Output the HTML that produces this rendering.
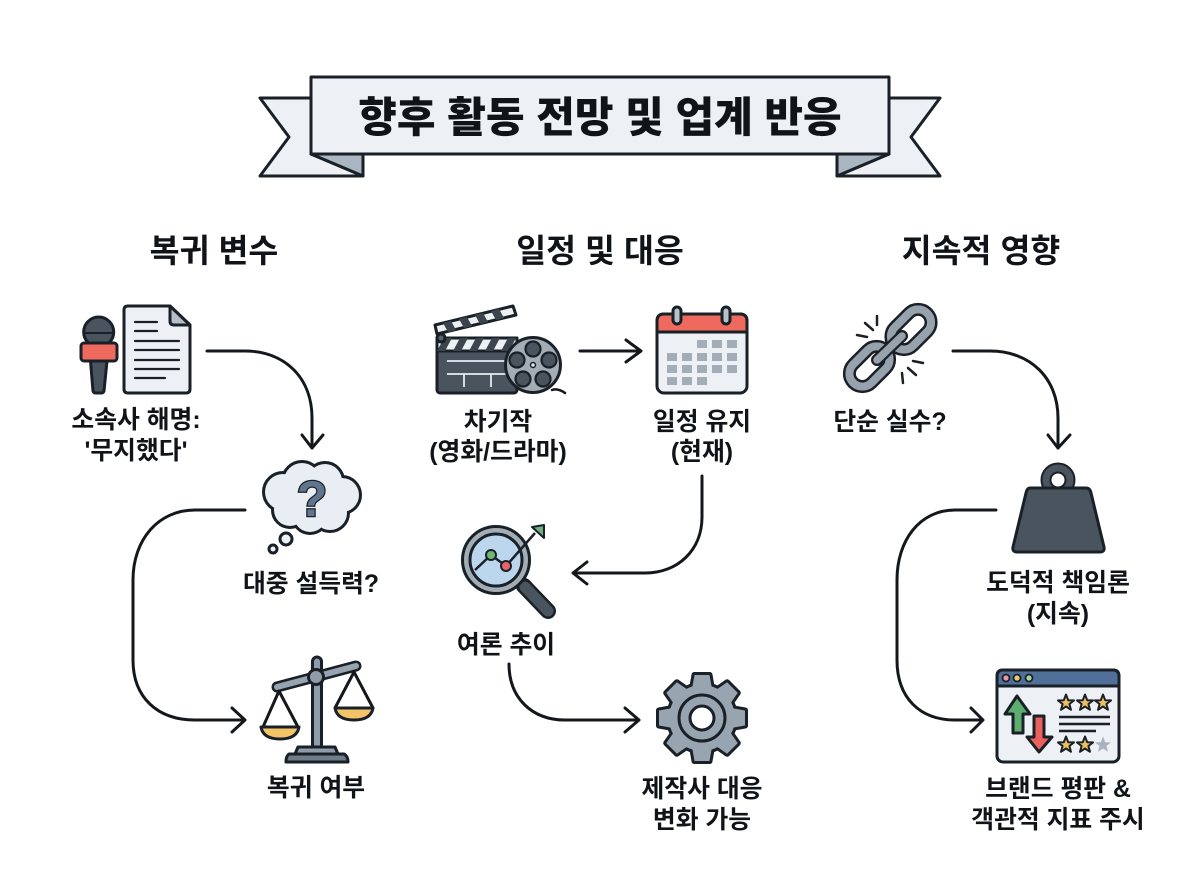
<!DOCTYPE html>
<html lang="ko">
<head>
<meta charset="utf-8">
<title>향후 활동 전망 및 업계 반응</title>
<style>
html,body{margin:0;padding:0;background:#fff;}
svg{display:block;}
text{font-family:"Liberation Sans","Noto Sans CJK KR",sans-serif;font-weight:700;fill:#101317;text-anchor:middle;}
.h{font-size:32.5px;}
.l{font-size:24.8px;}
.c{fill:none;stroke:#14181d;stroke-width:3;stroke-linecap:round;stroke-linejoin:round;}
.o{stroke:#1a2027;stroke-width:3;stroke-linejoin:round;stroke-linecap:round;}
</style>
</head>
<body>
<svg xmlns="http://www.w3.org/2000/svg" width="1200" height="896" viewBox="0 0 1200 896">
<defs>
<polygon id="star" points="0,-8.5 2.2,-2.8 8,-2.6 3.4,1 5,6.8 0,3.5 -5,6.8 -3.4,1 -8,-2.6 -2.2,-2.8"/>
<g id="gearshape">
  <circle cx="0" cy="0" r="33"/>
  <polygon points="-10,-29 -7.5,-43 7.5,-43 10,-29"/>
  <polygon points="-10,-29 -7.5,-43 7.5,-43 10,-29" transform="rotate(45)"/>
  <polygon points="-10,-29 -7.5,-43 7.5,-43 10,-29" transform="rotate(90)"/>
  <polygon points="-10,-29 -7.5,-43 7.5,-43 10,-29" transform="rotate(135)"/>
  <polygon points="-10,-29 -7.5,-43 7.5,-43 10,-29" transform="rotate(180)"/>
  <polygon points="-10,-29 -7.5,-43 7.5,-43 10,-29" transform="rotate(225)"/>
  <polygon points="-10,-29 -7.5,-43 7.5,-43 10,-29" transform="rotate(270)"/>
  <polygon points="-10,-29 -7.5,-43 7.5,-43 10,-29" transform="rotate(315)"/>
</g>
<g id="cloudshape">
  <circle cx="283" cy="492" r="18"/><circle cx="302" cy="481" r="18"/><circle cx="325" cy="481" r="17"/>
  <circle cx="342" cy="495" r="17"/><circle cx="330" cy="513" r="17"/><circle cx="310" cy="516" r="16"/>
  <circle cx="290" cy="510" r="16"/><circle cx="312" cy="497" r="24"/>
</g>
</defs>
<rect width="1200" height="896" fill="#fff"/>

<!-- Banner -->
<polygon class="o" points="260,98 311,98 311,154 363,176 260,176 289,137" fill="#edf1f6"/>
<polygon class="o" points="940,98 889,98 889,154 837,176 940,176 911,137" fill="#edf1f6"/>
<polygon class="o" points="311,154 363,154 363,176" fill="#aab6c2"/>
<polygon class="o" points="889,154 837,154 837,176" fill="#aab6c2"/>
<rect class="o" x="311" y="77" width="578" height="77" fill="#edf1f6"/>
<text x="600" y="132" style="font-size:42px;font-weight:900">향후 활동 전망 및 업계 반응</text>

<!-- Column headers -->
<text class="h" x="214" y="262">복귀 변수</text>
<text class="h" x="600" y="262">일정 및 대응</text>
<text class="h" x="981" y="262">지속적 영향</text>

<!-- Mic -->
<path class="o" d="M90.5,361 L107,361 L104,391 Q103.5,393 101,393 L96,393 Q93.5,393 93,391 Z" fill="#4a545e"/>
<circle class="o" cx="98.7" cy="332" r="15" fill="#4a545e"/>
<line x1="84" y1="333" x2="113" y2="333" stroke="#1a2027" stroke-width="2"/>
<rect class="o" x="81" y="343" width="36" height="18" rx="3" fill="#ee6a5f"/>

<!-- Document -->
<path class="o" d="M128,306 L170,306 L190,325 L190,389 Q190,393 186,393 L128,393 Q124,393 124,389 L124,310 Q124,306 128,306 Z" fill="#edf1f6"/>
<path class="o" d="M170,306 L190,325 L174,325 Q170,325 170,321 Z" fill="#b6bec7"/>
<g stroke="#1a2027" stroke-width="2.2" stroke-linecap="round">
<line x1="135" y1="322" x2="157" y2="322"/><line x1="135" y1="331" x2="157" y2="331"/>
<line x1="135" y1="341" x2="179" y2="341"/><line x1="135" y1="350" x2="179" y2="350"/>
<line x1="135" y1="360" x2="179" y2="360"/><line x1="135" y1="369" x2="179" y2="369"/>
<line x1="135" y1="378" x2="165" y2="378"/>
</g>
<text class="l" x="136" y="428">소속사 해명:</text>
<text class="l" x="136" y="459">'무지했다'</text>

<!-- Connector 1 -->
<path class="c" d="M207,351 H245 C285,351 312,378 312,418 V448"/>
<path class="c" d="M302,435 L312,448 L323,435"/>

<!-- Cloud -->
<use href="#cloudshape" fill="#1a2027" stroke="#1a2027" stroke-width="6"/>
<use href="#cloudshape" fill="#e9eef4"/>
<text x="312" y="516" style="font-size:50px;font-weight:700;fill:#5f7590;stroke:#1a2027;stroke-width:2.5;paint-order:stroke">?</text>
<circle class="o" cx="286" cy="539" r="6" fill="#edf1f6"/>
<circle class="o" cx="273" cy="549" r="4" fill="#edf1f6"/>
<text class="l" x="311" y="592">대중 설득력?</text>

<!-- Connector 2 -->
<path class="c" d="M245,510 H195 C158,510 133,540 133,580 V660 C133,698 158,720 195,720 H244"/>
<path class="c" d="M232,708 L245,720 L232,732"/>

<!-- Scales -->
<rect class="o" x="312.5" y="657" width="9" height="92" rx="4.5" fill="#8f9ca9"/>
<path d="M277,687 L356,666" stroke="#1a2027" stroke-width="11" stroke-linecap="round"/>
<path d="M277,687 L356,666" stroke="#97a4b0" stroke-width="6" stroke-linecap="round"/>
<circle class="o" cx="316" cy="677" r="7.5" fill="#8f9ca9"/>
<path class="o" d="M295,754 L298,747 L335,747 L338,754 Z" fill="#8f9ca9"/>
<path class="o" d="M289,754 L344,754 Q348,756 348,762 L286,762 Q286,756 289,754 Z" fill="#6f7d8b"/>
<path class="c" d="M263,727 L279,691 L298,727"/>
<path class="c" d="M335,708 L354,672 L373,708"/>
<path class="o" d="M261,727 L299,727 Q297,739 280,739 Q263,739 261,727 Z" fill="#f3c468"/>
<path class="o" d="M335,708 L373,708 Q371,720 354,720 Q337,720 335,708 Z" fill="#f3c468"/>
<text class="l" x="316" y="796">복귀 여부</text>

<!-- Clapper -->
<rect class="o" x="437" y="338" width="80" height="55" rx="3" fill="#4a545e"/>
<rect class="o" x="437" y="338" width="80" height="13" fill="#eef1f4"/>
<g fill="#3c454e">
<polygon points="437,351 444,338 452,338 445,351"/>
<polygon points="453,351 460,338 468,338 461,351"/>
<polygon points="469,351 476,338 484,338 477,351"/>
<polygon points="485,351 492,338 500,338 493,351"/>
<polygon points="501,351 508,338 516,338 509,351"/>
</g>
<polygon class="o" points="435,325 513,306 516,315 437,334" fill="#eef1f4"/>
<g fill="#3c454e">
<polygon points="443,323 451,321 456,330 448,332"/>
<polygon points="459,319 467,317 472,326 464,328"/>
<polygon points="475,315 483,313 488,322 480,324"/>
<polygon points="491,311 499,309 504,318 496,320"/>
</g>
<circle class="o" cx="441" cy="338" r="4" fill="#5a646e"/>
<g stroke="#e8ecf0" stroke-width="1.8">
<line x1="447" y1="361" x2="505" y2="361"/><line x1="447" y1="374" x2="510" y2="374"/>
<line x1="464" y1="374" x2="464" y2="387"/><line x1="491" y1="374" x2="491" y2="387"/>
</g>
<path class="c" d="M552,390 Q558,388 565,393" style="stroke-width:2.5"/>
<circle class="o" cx="533" cy="365" r="27.5" fill="#a3adb6"/>
<g fill="#4a545e" stroke="#1a2027" stroke-width="2.2">
<circle cx="533" cy="349" r="7.5"/><circle cx="549" cy="360" r="7.5"/><circle cx="543" cy="379" r="7.5"/>
<circle cx="523" cy="379" r="7.5"/><circle cx="517" cy="360" r="7.5"/>
</g>
<circle cx="533" cy="365" r="2.5" fill="#dfe4e9" stroke="#1a2027" stroke-width="1.5"/>
<text class="l" x="498" y="430">차기작</text>
<text class="l" x="498" y="460">(영화/드라마)</text>

<!-- Connector 3 -->
<path class="c" d="M580,351 H640"/>
<path class="c" d="M626,340 L641,351 L626,362"/>

<!-- Calendar -->
<rect class="o" x="657" y="314" width="90" height="79" rx="7" fill="#edf1f6"/>
<path class="o" d="M657,332 V321 Q657,314 664,314 H740 Q747,314 747,321 V332 Z" fill="#ee6a5f"/>
<rect class="o" x="673" y="307" width="8" height="17" rx="4" fill="#b9c1c9"/>
<rect class="o" x="722" y="307" width="8" height="17" rx="4" fill="#b9c1c9"/>
<g fill="#a3adb6">
<rect x="697" y="340" width="10" height="8"/><rect x="712" y="340" width="10" height="8"/><rect x="727" y="340" width="10" height="8"/>
<rect x="667" y="353" width="10" height="8"/><rect x="682" y="353" width="10" height="8"/><rect x="697" y="353" width="10" height="8"/><rect x="712" y="353" width="10" height="8"/><rect x="727" y="353" width="10" height="8"/>
<rect x="667" y="365" width="10" height="8"/><rect x="682" y="365" width="10" height="8"/><rect x="697" y="365" width="10" height="8"/><rect x="712" y="365" width="10" height="8"/><rect x="727" y="365" width="10" height="8"/>
<rect x="667" y="377" width="10" height="8"/><rect x="682" y="377" width="10" height="8"/><rect x="697" y="377" width="10" height="8"/>
</g>
<text class="l" x="702" y="430">일정 유지</text>
<text class="l" x="702" y="460">(현재)</text>

<!-- Connector 4 -->
<path class="c" d="M702,476 V517 C702,550 678,573 645,573 H574"/>
<path class="c" d="M587,562 L573,573 L587,584"/>

<!-- Magnifier -->
<line x1="524" y1="586" x2="548" y2="611" stroke="#1a2027" stroke-width="16" stroke-linecap="round"/>
<line x1="525" y1="587" x2="548" y2="611" stroke="#4a545e" stroke-width="11" stroke-linecap="round"/>
<circle class="o" cx="496" cy="560" r="33.5" fill="#a3adb6"/>
<circle class="o" cx="496" cy="560" r="26" fill="#bcd6ee"/>
<path d="M475,570 L491,555 L506,566 L535,533" fill="none" stroke="#1a2027" stroke-width="2.5"/>
<polygon points="532,527 544,525 544,538" fill="#6fb07e" stroke="#1a2027" stroke-width="2" stroke-linejoin="round"/>
<circle cx="491" cy="555" r="5" fill="#6fb872" stroke="#1a2027" stroke-width="2"/>
<circle cx="506" cy="566" r="5" fill="#e8646a" stroke="#1a2027" stroke-width="2"/>
<text class="l" x="506" y="653">여론 추이</text>

<!-- Connector 5 -->
<path class="c" d="M509,664 C509,698 532,720 565,720 H638"/>
<path class="c" d="M625,708 L639,720 L625,732"/>

<!-- Gear -->
<g transform="translate(702,718)">
<use href="#gearshape" fill="#1a2027" stroke="#1a2027" stroke-width="6" stroke-linejoin="round"/>
<use href="#gearshape" fill="#98a4b0"/>
<circle cx="0" cy="0" r="23" fill="none" stroke="#1a2027" stroke-width="3"/>
<circle cx="0" cy="0" r="12" fill="#fff" stroke="#1a2027" stroke-width="3"/>
</g>
<text class="l" x="702" y="797">제작사 대응</text>
<text class="l" x="702" y="828">변화 가능</text>

<!-- Chain -->
<g transform="rotate(-45 911 329.5)">
<rect x="888" y="316.5" width="46" height="26" rx="13" fill="none" stroke="#1a2027" stroke-width="13"/>
<rect x="888" y="316.5" width="46" height="26" rx="13" fill="none" stroke="#98a2ac" stroke-width="8"/>
</g>
<g transform="rotate(-45 869.5 366.5)">
<rect x="846.5" y="353.5" width="46" height="26" rx="13" fill="none" stroke="#1a2027" stroke-width="13"/>
<rect x="846.5" y="353.5" width="46" height="26" rx="13" fill="none" stroke="#98a2ac" stroke-width="8"/>
</g>
<line x1="877" y1="360" x2="902" y2="336" stroke="#1a2027" stroke-width="12" stroke-linecap="round"/>
<line x1="877" y1="360" x2="902" y2="336" stroke="#98a2ac" stroke-width="7.5" stroke-linecap="round"/>
<g stroke="#1a2027" stroke-width="2.5" stroke-linecap="round">
<line x1="877" y1="316" x2="877" y2="325"/><line x1="865" y1="323" x2="873" y2="330"/><line x1="857" y1="335" x2="867" y2="337"/>
<line x1="913" y1="361" x2="923" y2="363"/><line x1="908" y1="368" x2="916" y2="375"/><line x1="902" y1="373" x2="903" y2="383"/>
</g>
<text class="l" x="890" y="430">단순 실수?</text>

<!-- Connector 6 -->
<path class="c" d="M953,351 H990 C1030,351 1058,378 1058,418 V448"/>
<path class="c" d="M1048,435 L1058,448 L1070,435"/>

<!-- Weight -->
<circle cx="1058" cy="480" r="12" fill="none" stroke="#1a2027" stroke-width="11"/>
<circle cx="1058" cy="480" r="12" fill="none" stroke="#4a545e" stroke-width="7"/>
<path class="o" d="M1030,488 H1086 Q1090,488 1091,493 L1104,547 Q1105,552 1100,552 H1017 Q1012,552 1013,547 L1026,493 Q1027,488 1030,488 Z" fill="#4a545e"/>
<text class="l" x="1058" y="591">도덕적 책임론</text>
<text class="l" x="1058" y="622">(지속)</text>

<!-- Connector 7 -->
<path class="c" d="M996,510 H955 C920,510 897,540 897,580 V660 C897,698 920,720 955,720 H982"/>
<path class="c" d="M971,708 L983,720 L971,732"/>

<!-- Window -->
<rect class="o" x="997" y="670" width="122" height="92" rx="6" fill="#edf1f6"/>
<path class="o" d="M997,686 V676 Q997,670 1003,670 H1113 Q1119,670 1119,676 V686 Z" fill="#50709a"/>
<circle cx="1006" cy="678" r="3.5" fill="#e89aa4" stroke="#1a2027" stroke-width="1.8"/>
<circle cx="1017" cy="678" r="3.5" fill="#f0ca70" stroke="#1a2027" stroke-width="1.8"/>
<circle cx="1029" cy="678" r="3.5" fill="#a8d8a0" stroke="#1a2027" stroke-width="1.8"/>
<polygon class="o" points="1017,696 1030,714 1023,714 1023,733 1013,733 1013,714 1005,714" fill="#5cae6e"/>
<polygon class="o" points="1039,752 1052,737 1044,737 1044,716 1034,716 1034,737 1027,737" fill="#ec5f5c"/>
<g fill="#f0bf60" stroke="#1a2027" stroke-width="2" stroke-linejoin="round">
<use href="#star" x="1066" y="703"/><use href="#star" x="1085" y="703"/><use href="#star" x="1103" y="703"/>
<use href="#star" x="1066" y="745"/><use href="#star" x="1085" y="745"/>
</g>
<use href="#star" x="1103" y="745" fill="#a9b3bd"/>
<g stroke="#1a2027" stroke-width="2.5">
<line x1="1059" y1="717" x2="1110" y2="717"/><line x1="1059" y1="724" x2="1110" y2="724"/><line x1="1059" y1="731" x2="1096" y2="731"/>
</g>
<text class="l" x="1058" y="797">브랜드 평판 &amp;</text>
<text class="l" x="1058" y="828">객관적 지표 주시</text>
</svg>
</body>
</html>
